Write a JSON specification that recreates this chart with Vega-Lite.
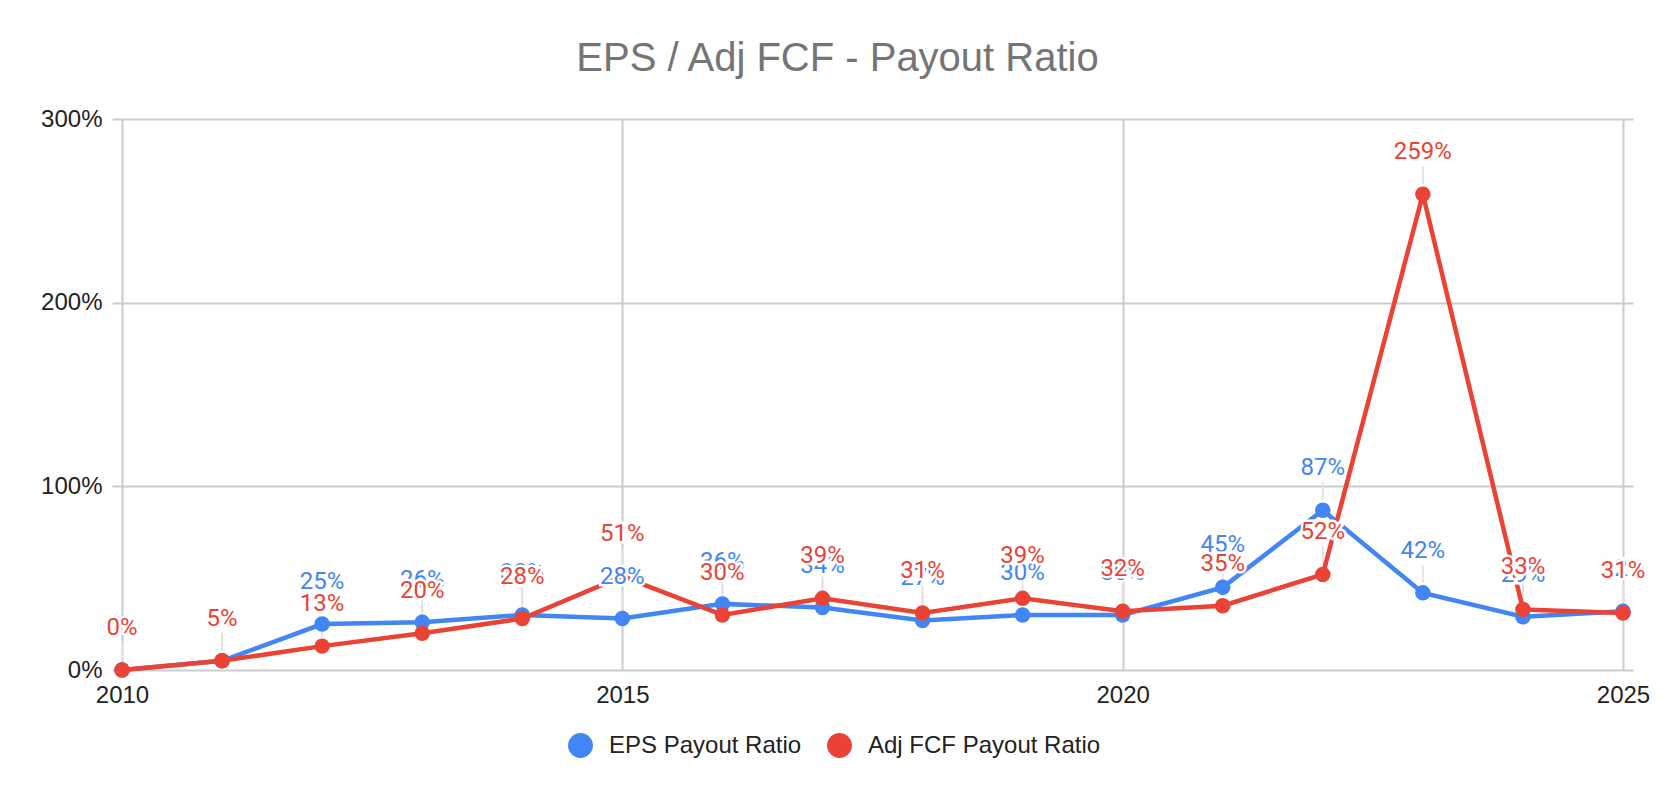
{
  "$schema": "https://vega.github.io/schema/vega-lite/v6.json",
  "width": 1521,
  "height": 551,
  "autosize": "none",
  "padding": {"left": 112, "top": 119, "right": 41, "bottom": 128},
  "background": "white",
  "title": {
    "text": "EPS / Adj FCF - Payout Ratio",
    "font": "Liberation Sans",
    "fontSize": 40,
    "fontWeight": "normal",
    "color": "#757575",
    "anchor": "middle",
    "frame": "group",
    "dx": -35,
    "offset": 28
  },
  "data": {
    "values": [
      {"year": 2010, "series": "EPS Payout Ratio", "value": 0.0},
      {"year": 2011, "series": "EPS Payout Ratio", "value": 0.05},
      {"year": 2012, "series": "EPS Payout Ratio", "value": 0.25},
      {"year": 2013, "series": "EPS Payout Ratio", "value": 0.26},
      {"year": 2014, "series": "EPS Payout Ratio", "value": 0.30},
      {"year": 2015, "series": "EPS Payout Ratio", "value": 0.28},
      {"year": 2016, "series": "EPS Payout Ratio", "value": 0.36},
      {"year": 2017, "series": "EPS Payout Ratio", "value": 0.34},
      {"year": 2018, "series": "EPS Payout Ratio", "value": 0.27},
      {"year": 2019, "series": "EPS Payout Ratio", "value": 0.30},
      {"year": 2020, "series": "EPS Payout Ratio", "value": 0.30},
      {"year": 2021, "series": "EPS Payout Ratio", "value": 0.45},
      {"year": 2022, "series": "EPS Payout Ratio", "value": 0.87},
      {"year": 2023, "series": "EPS Payout Ratio", "value": 0.42},
      {"year": 2024, "series": "EPS Payout Ratio", "value": 0.29},
      {"year": 2025, "series": "EPS Payout Ratio", "value": 0.32},
      {"year": 2010, "series": "Adj FCF Payout Ratio", "value": 0.0},
      {"year": 2011, "series": "Adj FCF Payout Ratio", "value": 0.05},
      {"year": 2012, "series": "Adj FCF Payout Ratio", "value": 0.13},
      {"year": 2013, "series": "Adj FCF Payout Ratio", "value": 0.20},
      {"year": 2014, "series": "Adj FCF Payout Ratio", "value": 0.28},
      {"year": 2015, "series": "Adj FCF Payout Ratio", "value": 0.51},
      {"year": 2016, "series": "Adj FCF Payout Ratio", "value": 0.30},
      {"year": 2017, "series": "Adj FCF Payout Ratio", "value": 0.39},
      {"year": 2018, "series": "Adj FCF Payout Ratio", "value": 0.31},
      {"year": 2019, "series": "Adj FCF Payout Ratio", "value": 0.39},
      {"year": 2020, "series": "Adj FCF Payout Ratio", "value": 0.32},
      {"year": 2021, "series": "Adj FCF Payout Ratio", "value": 0.35},
      {"year": 2022, "series": "Adj FCF Payout Ratio", "value": 0.52},
      {"year": 2023, "series": "Adj FCF Payout Ratio", "value": 2.59},
      {"year": 2024, "series": "Adj FCF Payout Ratio", "value": 0.33},
      {"year": 2025, "series": "Adj FCF Payout Ratio", "value": 0.31}
    ]
  },
  "encoding": {
    "x": {
      "field": "year",
      "type": "quantitative",
      "scale": {"domain": [2010, 2025], "nice": false, "zero": false, "padding": 10},
      "axis": {
        "title": null,
        "values": [2010, 2015, 2020, 2025],
        "format": "d",
        "labelPadding": 13
      }
    },
    "y": {
      "field": "value",
      "type": "quantitative",
      "scale": {"domain": [0, 3], "nice": false},
      "axis": {
        "title": null,
        "values": [0, 1, 2, 3],
        "format": ".0%",
        "labelPadding": 10
      }
    }
  },
  "layer": [
    {
      "mark": {"type": "rule", "color": "#e3e3e3", "strokeWidth": 2, "yOffset": -10, "y2Offset": -28},
      "encoding": {"y2": {"field": "value"}}
    },
    {
      "transform": [{"filter": "datum.series === 'EPS Payout Ratio'"}],
      "mark": {"type": "line", "color": "#4285F4", "strokeWidth": 4.5}
    },
    {
      "transform": [{"filter": "datum.series === 'Adj FCF Payout Ratio'"}],
      "mark": {"type": "line", "color": "#EA4335", "strokeWidth": 4.5}
    },
    {
      "mark": {"type": "point", "filled": true, "size": 240, "opacity": 1},
      "encoding": {
        "color": {
          "field": "series",
          "type": "nominal",
          "scale": {"domain": ["EPS Payout Ratio", "Adj FCF Payout Ratio"], "range": ["#4285F4", "#EA4335"]},
          "legend": {
            "title": null,
            "orient": "none",
            "legendX": 456,
            "legendY": 614,
            "direction": "horizontal",
            "symbolType": "circle",
            "symbolSize": 620,
            "symbolStrokeWidth": 0,
            "labelFont": "Liberation Sans",
            "labelFontSize": 24,
            "labelColor": "#222222",
            "labelOffset": 16,
            "labelLimit": 0,
            "columnPadding": 25,
            "padding": 0
          }
        }
      }
    },
    {
      "transform": [{"filter": "datum.series === 'EPS Payout Ratio'"}],
      "mark": {"type": "text", "font": "Roboto", "fontSize": 24, "dy": -42, "baseline": "middle", "color": "white", "stroke": "white", "strokeWidth": 5},
      "encoding": {"text": {"field": "value", "format": ".0%"}}
    },
    {
      "transform": [{"filter": "datum.series === 'EPS Payout Ratio'"}],
      "mark": {"type": "text", "font": "Roboto", "fontSize": 24, "dy": -42, "baseline": "middle", "color": "#4285F4"},
      "encoding": {"text": {"field": "value", "format": ".0%"}}
    },
    {
      "transform": [{"filter": "datum.series === 'Adj FCF Payout Ratio'"}],
      "mark": {"type": "text", "font": "Roboto", "fontSize": 24, "dy": -42, "baseline": "middle", "color": "white", "stroke": "white", "strokeWidth": 5},
      "encoding": {"text": {"field": "value", "format": ".0%"}}
    },
    {
      "transform": [{"filter": "datum.series === 'Adj FCF Payout Ratio'"}],
      "mark": {"type": "text", "font": "Roboto", "fontSize": 24, "dy": -42, "baseline": "middle", "color": "#EA4335"},
      "encoding": {"text": {"field": "value", "format": ".0%"}}
    }
  ],
  "config": {
    "view": {"stroke": null},
    "axis": {
      "domain": false,
      "ticks": false,
      "grid": true,
      "gridColor": "#cccccc",
      "gridWidth": 2,
      "labelFont": "Liberation Sans",
      "labelFontSize": 24,
      "labelColor": "#222222"
    }
  }
}
